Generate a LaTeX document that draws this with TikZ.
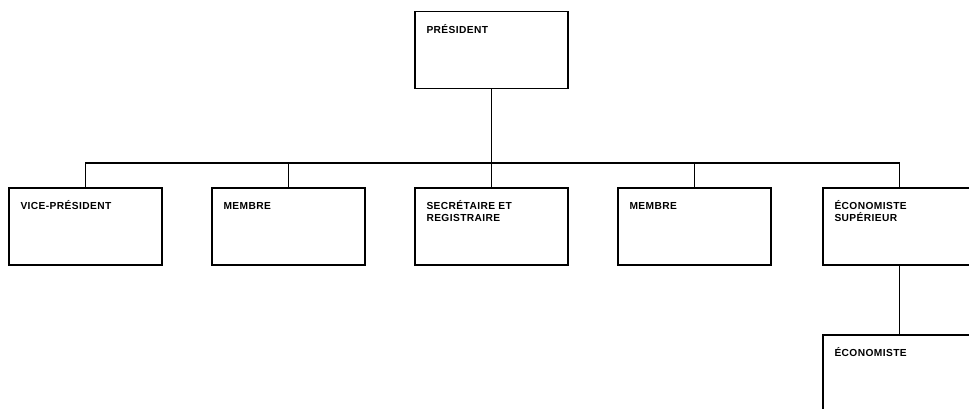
\documentclass[tikz,border=0pt]{standalone}
\usepackage{fontspec}
\setsansfont[LetterSpace=4]{Liberation Sans}
\usepackage{tikz}
\usetikzlibrary{calc}

\tikzset{
	poste/.style={draw, line width=1.3pt, rectangle, minimum width=153pt, minimum height=77pt,
		inner xsep=11pt, inner ysep=11.5pt, font=\sffamily\bfseries\fontsize{10.2}{11.6}\selectfont},
}
\newcommand{\titre}[1]{\parbox[t][52pt][t]{130pt}{\raggedright\vphantom{É}#1}}

\begin{document}
\begin{tikzpicture}[x=1pt, y=-1pt]
			\useasboundingbox (0, 0) rectangle (969, 409);
			\clip (0, 0) rectangle (969, 409);

			\node[poste] (pres) at (491.5, 50){\titre{PRÉSIDENT}};

			\node[poste] (vp) at (85.5, 226.5){\titre{VICE-PRÉSIDENT}};
			\node[poste] (mem1) at (288.5, 226.5){\titre{MEMBRE}};
			\node[poste] (sec) at (491.5, 226.5){\titre{SECRÉTAIRE ET\\REGISTRAIRE}};
			\node[poste] (mem2) at (694.5, 226.5){\titre{MEMBRE}};
			\node[poste] (ecosup) at (899.5, 226.5){\titre{ÉCONOMISTE\\SUPÉRIEUR}};

			\node[poste] (eco) at (899.5, 373.5){\titre{ÉCONOMISTE}};

			\coordinate (bar) at (0, 163);

			\draw[line width=1.3pt] (pres.south)--(sec.north);
			\draw[line width=1.3pt] (vp.north)--(vp.north |- bar)--(ecosup.north |- bar)--(ecosup.north);
			\draw[line width=1.3pt] (mem1.north)--(mem1.north |- bar);
			\draw[line width=1.3pt] (mem2.north)--(mem2.north |- bar);
			\draw[line width=1.3pt] (ecosup.south)--(eco.north);
		\end{tikzpicture}
\end{document}
